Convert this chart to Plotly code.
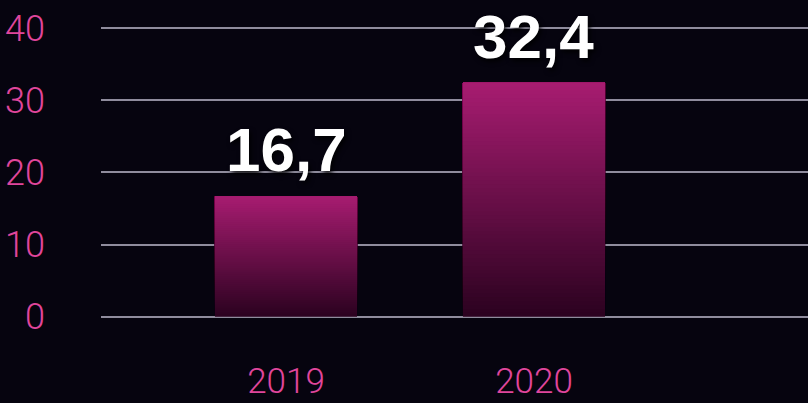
import plotly.graph_objects as go

# Data
categories = ["2019", "2020"]
values = [16.7, 32.4]
value_labels = ["16,7", "32,4"]
y_ticks = [0, 10, 20, 30, 40]

# Style
TOP = (166, 28, 112)
BOTTOM = (44, 2, 32)
N = 60
PINK = "#e0469c"
TICK_FONT = "Roboto, Liberation Sans, sans-serif"

def lerp(a, b, t):
    return tuple(int(round(a[i] + (b[i] - a[i]) * t)) for i in range(3))

xs, bases, heights, colors = [], [], [], []
for k in range(N):
    t = k / (N - 1)
    c = lerp(BOTTOM, TOP, t)
    for cat, v in zip(categories, values):
        b = v * k / N
        xs.append(cat)
        bases.append(b)
        heights.append(v - b)
        colors.append("rgb(%d,%d,%d)" % c)

fig = go.Figure()
fig.add_trace(go.Bar(
    x=xs, y=heights, base=bases,
    marker=dict(color=colors, line=dict(width=0)),
    width=0.573, hoverinfo="skip", showlegend=False,
))

for i, (v, lab) in enumerate(zip(values, value_labels)):
    fig.add_annotation(
        x=i, y=v, xref="x", yref="y", text="<b>%s</b>" % lab, showarrow=False,
        yanchor="bottom", yshift=10,
        font=dict(family="Liberation Sans, Arial, sans-serif", size=62, color="white",
                  shadow="2px 3px 5px rgba(0,0,0,0.9)"),
    )

px_per_unit = 7.22
plot_top, plot_bottom = 10, 340
zero_y = 316.7
y_max = (zero_y - plot_top) / px_per_unit
y_min = -(plot_bottom - zero_y) / px_per_unit

fig.update_layout(
    width=808, height=403,
    margin=dict(l=101, r=0, t=plot_top, b=403 - plot_bottom),
    paper_bgcolor="#06040f", plot_bgcolor="rgba(0,0,0,0)",
    barmode="overlay",
    xaxis=dict(
        type="category", range=[-0.746, 2.105], showgrid=False, zeroline=False,
        showline=False, ticks="", automargin=False,
        tickfont=dict(family=TICK_FONT, size=35, color=PINK, weight=300),
        ticklabelstandoff=17,
    ),
    yaxis=dict(
        range=[y_min, y_max], tickvals=y_ticks, ticktext=[str(t) for t in y_ticks],
        showgrid=True, gridcolor="rgba(190,185,205,0.75)", gridwidth=2,
        zeroline=True, zerolinecolor="rgba(190,185,205,0.75)", zerolinewidth=2,
        showline=False, ticks="", automargin=False,
        tickfont=dict(family=TICK_FONT, size=36, color=PINK, weight=300),
        ticklabelstandoff=55,
    ),
)

fig.write_html("out.html")
